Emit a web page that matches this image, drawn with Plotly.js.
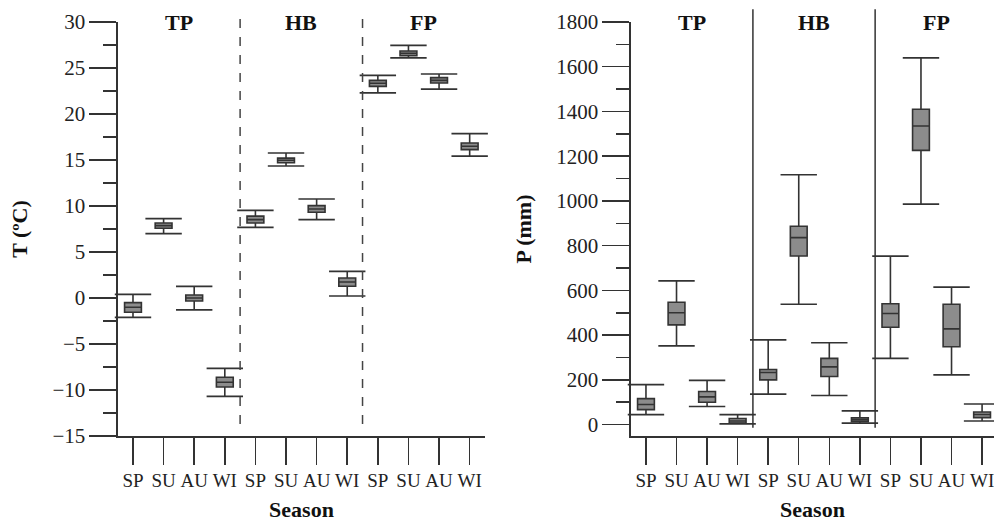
<!DOCTYPE html>
<html>
<head>
<meta charset="utf-8">
<script src="https://cdn.plot.ly/plotly-3.0.1.min.js"></script>
<style>html,body{margin:0;padding:0;background:#fff}#chart{width:994px;height:522px}</style>
</head>
<body>
<div id="chart"></div>
<script>
// ---- data ----
const regions = ["TP", "HB", "FP"];
const seasons = ["SP", "SU", "AU", "WI"];
const tickLabels = ["SP","SU","AU","WI","SP","SU","AU","WI","SP","SU","AU","WI"];
const positions = [0,1,2,3,4,5,6,7,8,9,10,11];

// Temperature (ºC): TP SP..WI, HB SP..WI, FP SP..WI
const tLow  = [-2.1, 7.0, -1.3, -10.7, 7.68, 14.35, 8.52, 0.22, 22.3, 26.1, 22.7, 15.43];
const tQ1   = [-1.55, 7.58, -0.33, -9.67, 8.15, 14.7, 9.32, 1.27, 23.0, 26.35, 23.37, 16.13];
const tMed  = [-1.0, 7.87, 0.0, -9.16, 8.52, 14.97, 9.68, 1.74, 23.34, 26.6, 23.66, 16.49];
const tQ3   = [-0.5, 8.15, 0.33, -8.62, 8.9, 15.2, 10.04, 2.17, 23.66, 26.85, 23.95, 16.85];
const tHigh = [0.4, 8.63, 1.27, -7.64, 9.53, 15.76, 10.76, 2.9, 24.2, 27.47, 24.35, 17.87];

// Precipitation (mm)
const pLow  = [45, 352, 81, 3, 136, 538, 130, 7, 296, 986, 222, 16];
const pQ1   = [67, 446, 100, 7, 200, 754, 215, 13, 435, 1226, 348, 31];
const pMed  = [90, 500, 124, 16, 233, 836, 258, 21, 497, 1335, 428, 45];
const pQ3   = [116, 547, 148, 27, 246, 887, 296, 30, 540, 1410, 538, 56];
const pHigh = [179, 643, 198, 45, 379, 1117, 366, 61, 753, 1640, 615, 92];

// ---- styling ----
const SERIF = "Liberation Serif, Times New Roman, serif";
const INK = "#333";
const boxFill = "#8c8c8c";

function boxTrace(xa, ya, low, q1, med, q3, high) {
  return {
    type: "box", xaxis: xa, yaxis: ya,
    x: positions, q1: q1, median: med, q3: q3, lowerfence: low, upperfence: high,
    width: 0.55, whiskerwidth: 0,
    fillcolor: boxFill, line: {color: INK, width: 1.6},
    boxpoints: false, hoverinfo: "skip", showlegend: false
  };
}
function capTrace(xa, ya, vals) {
  return {
    type: "scatter", mode: "markers", xaxis: xa, yaxis: ya,
    x: positions, y: vals,
    marker: {symbol: "line-ew", size: 26, color: INK, line: {color: INK, width: 1.7}},
    hoverinfo: "skip", showlegend: false, cliponaxis: false
  };
}

const data = [
  boxTrace("x", "y", tLow, tQ1, tMed, tQ3, tHigh),
  capTrace("x", "y", tLow), capTrace("x", "y", tHigh),
  boxTrace("x2", "y2", pLow, pQ1, pMed, pQ3, pHigh),
  capTrace("x2", "y2", pLow), capTrace("x2", "y2", pHigh)
];

function xAxis(domain, range, anchor) {
  return {
    domain: domain, range: range, anchor: anchor,
    tickmode: "array", tickvals: positions, ticktext: tickLabels,
    ticks: "outside", ticklen: 27, tickwidth: 1.5, tickcolor: INK,
    ticklabeloverflow: "allow",
    showline: true, linecolor: INK, linewidth: 1.5,
    showgrid: false, zeroline: false,
    tickfont: {family: SERIF, size: 19, color: "#222"},
    title: {text: "<b>Season</b>", font: {family: SERIF, size: 22, color: "#111"}, standoff: 14}
  };
}
function yAxis(range, dtick, minorDtick, title, anchor) {
  return {
    range: range, anchor: anchor, domain: [0, 1],
    tick0: 0, dtick: dtick,
    ticks: "outside", ticklen: 27, tickwidth: 1.5, tickcolor: INK,
    minor: {dtick: minorDtick, tick0: 0, ticks: "outside", ticklen: 13, tickwidth: 1.5, tickcolor: INK, showgrid: false},
    showline: true, linecolor: INK, linewidth: 1.5,
    showgrid: false, zeroline: false,
    tickfont: {family: SERIF, size: 21, color: "#222"},
    title: {text: "<b>" + title + "</b>", font: {family: SERIF, size: 22, color: "#111"}, standoff: 18}
  };
}

const separators = [3.5, 7.5];
const regionCenters = [1.5, 5.5, 9.5];
const shapes = [];
separators.forEach(s => {
  shapes.push({type: "line", xref: "x", yref: "paper", x0: s, x1: s, y0: 0.029, y1: 1.029,
    line: {color: "#444", width: 1.5, dash: "9px,9px"}});
  shapes.push({type: "line", xref: "x2", yref: "paper", x0: s, x1: s, y0: 0.02, y1: 1.031,
    line: {color: INK, width: 1.5}});
});
const annotations = [];
regions.forEach((r, i) => {
  ["x", "x2"].forEach(xr => {
    annotations.push({xref: xr, yref: "paper", x: regionCenters[i], y: 1.0, yanchor: "middle",
      text: "<b>" + r + "</b>", showarrow: false, font: {family: SERIF, size: 22, color: "#111"}});
  });
});

const layout = {
  width: 994, height: 522,
  margin: {l: 0, r: 0, t: 22, b: 86},
  paper_bgcolor: "#fff", plot_bgcolor: "rgba(0,0,0,0)",
  showlegend: false,
  xaxis: xAxis([0.1187, 0.4879], [-0.49, 11.5], "y"),
  yaxis: yAxis([-15, 30], 5, 2.5, "T (ºC)", "x"),
  xaxis2: xAxis([0.6348, 1.0], [-0.49, 11.39], "y2"),
  yaxis2: yAxis([-51, 1800], 200, 100, "P (mm)", "x2"),
  shapes: shapes,
  annotations: annotations
};

Plotly.newPlot("chart", data, layout, {staticPlot: true, displayModeBar: false});
</script>
</body>
</html>
